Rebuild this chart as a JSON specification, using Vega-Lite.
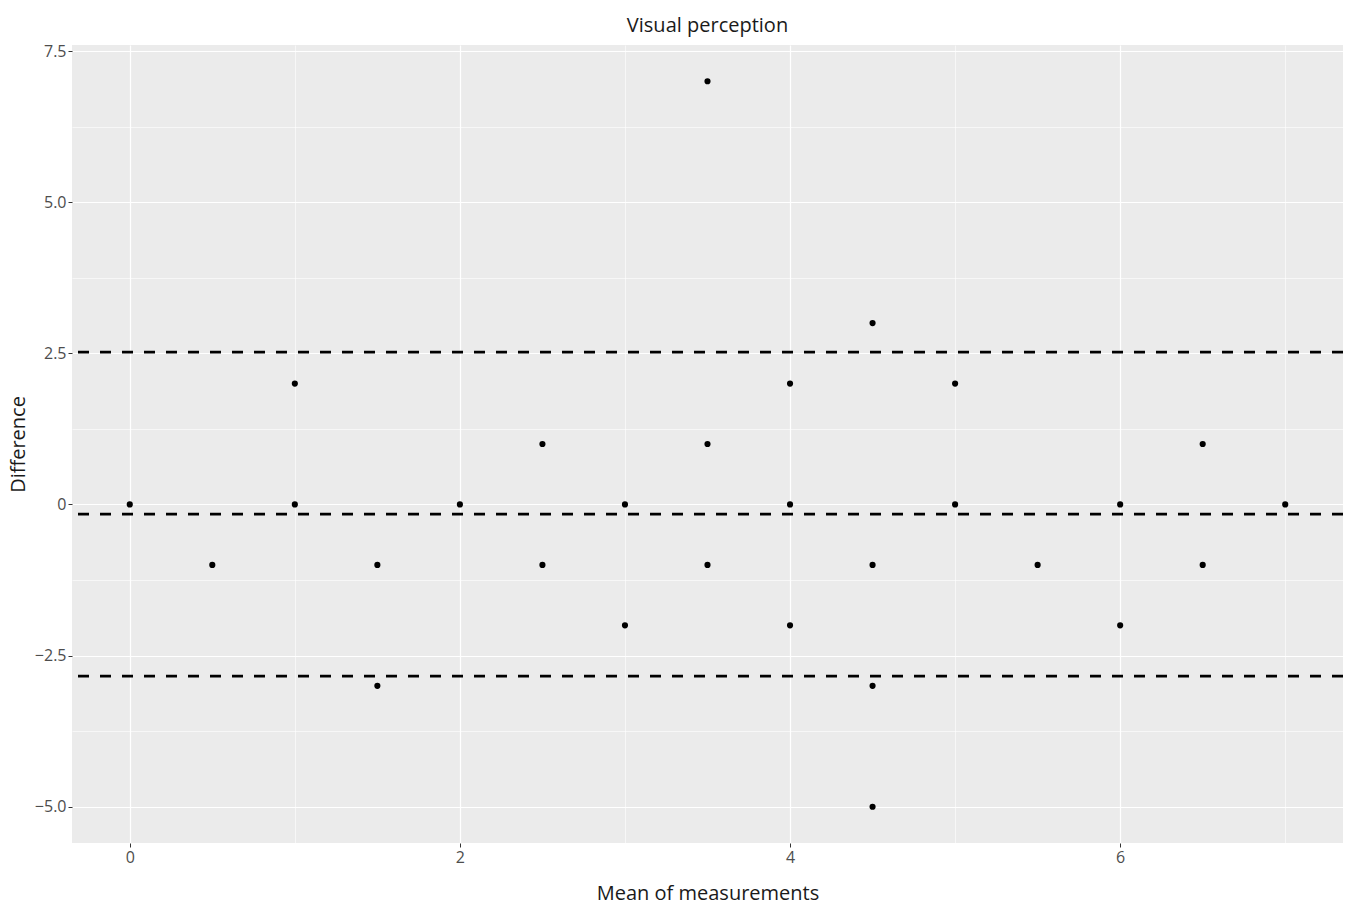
{
  "$schema": "https://vega.github.io/schema/vega-lite/v6.json",
  "width": 1271,
  "height": 798,
  "autosize": {"type": "none"},
  "padding": {"left": 72, "top": 45, "right": 8, "bottom": 63},
  "background": "white",
  "title": {"text": "Visual perception", "font": "Open Sans", "fontSize": 20, "fontWeight": "normal", "color": "#1a1a1a", "anchor": "middle", "frame": "group", "offset": 7},
  "config": {
    "view": {"fill": "#EBEBEB", "stroke": null},
    "axis": {"domain": false, "labelFont": "Open Sans", "labelFontSize": 16, "labelColor": "#4d4d4d", "titleFont": "Open Sans", "titleFontSize": 20, "titleFontWeight": "normal", "titleColor": "#1a1a1a", "gridColor": "white", "tickColor": "#333333", "tickSize": 4}
  },
  "datasets": {
    "points": [
      {"mean": 0, "diff": 0}, {"mean": 0.5, "diff": -1}, {"mean": 1, "diff": 2}, {"mean": 1, "diff": 0},
      {"mean": 1.5, "diff": -1}, {"mean": 1.5, "diff": -3}, {"mean": 2, "diff": 0}, {"mean": 2.5, "diff": 1},
      {"mean": 2.5, "diff": -1}, {"mean": 3, "diff": 0}, {"mean": 3, "diff": -2}, {"mean": 3.5, "diff": 7},
      {"mean": 3.5, "diff": 1}, {"mean": 3.5, "diff": -1}, {"mean": 4, "diff": 2}, {"mean": 4, "diff": 0},
      {"mean": 4, "diff": -2}, {"mean": 4.5, "diff": 3}, {"mean": 4.5, "diff": -1}, {"mean": 4.5, "diff": -3},
      {"mean": 4.5, "diff": -5}, {"mean": 5, "diff": 2}, {"mean": 5, "diff": 0}, {"mean": 5.5, "diff": -1},
      {"mean": 6, "diff": 0}, {"mean": 6, "diff": -2}, {"mean": 6.5, "diff": 1}, {"mean": 6.5, "diff": -1},
      {"mean": 7, "diff": 0}
    ],
    "limits": [{"y": 2.52}, {"y": -0.16}, {"y": -2.84}]
  },
  "layer": [
    {
      "data": {"name": "points"},
      "mark": {"type": "point", "filled": true, "shape": "circle", "size": 38, "color": "black", "opacity": 1},
      "encoding": {
        "x": {"field": "mean", "type": "quantitative", "title": "Mean of measurements",
          "scale": {"domain": [-0.35, 7.35], "nice": false, "zero": false},
          "axis": {"values": [0, 1, 2, 3, 4, 5, 6, 7], "labelExpr": "datum.value % 2 === 0 ? datum.label : ''",
            "gridWidth": {"condition": {"test": "datum.value % 2 !== 0", "value": 0.6}, "value": 1.2},
            "tickOpacity": {"condition": {"test": "datum.value % 2 !== 0", "value": 0}, "value": 1},
            "labelPadding": 2, "titlePadding": 18}},
        "y": {"field": "diff", "type": "quantitative", "title": "Difference",
          "scale": {"domain": [-5.6, 7.6], "nice": false, "zero": false},
          "axis": {"values": [-5, -3.75, -2.5, -1.25, 0, 1.25, 2.5, 3.75, 5, 6.25, 7.5],
            "labelExpr": "abs(datum.value % 2.5) > 0.01 ? '' : (datum.value === 0 ? '0' : format(datum.value, '.1f'))",
            "gridWidth": {"condition": {"test": "abs(datum.value % 2.5) > 0.01", "value": 0.6}, "value": 1.2},
            "tickOpacity": {"condition": {"test": "abs(datum.value % 2.5) > 0.01", "value": 0}, "value": 1},
            "labelPadding": 2, "titlePadding": 6}}
      }
    },
    {
      "data": {"name": "limits"},
      "mark": {"type": "rule", "color": "black", "strokeWidth": 2.8, "strokeDash": [11, 11]},
      "encoding": {"y": {"field": "y", "type": "quantitative"}}
    }
  ]
}
